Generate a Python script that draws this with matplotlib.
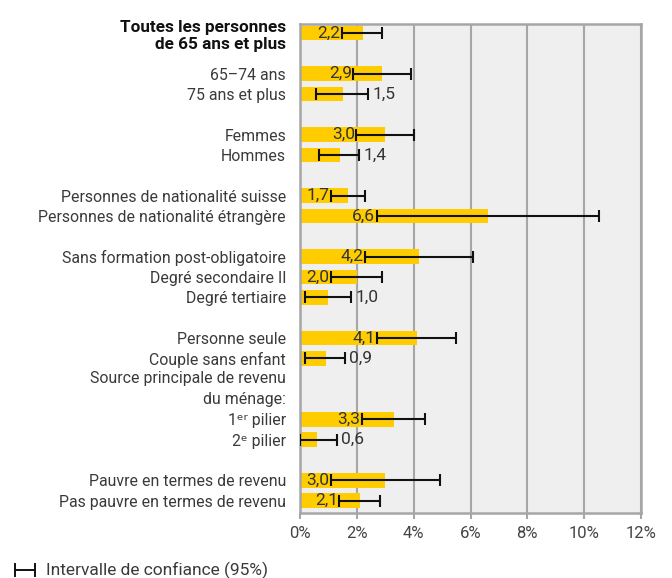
import matplotlib
matplotlib.use("Agg")
import matplotlib.pyplot as plt
from matplotlib.lines import Line2D

plt.rcParams['font.family'] = ['Roboto', 'DejaVu Sans']

# ---- data ----
categories = [
    "Toutes les personnes\nde 65 ans et plus",
    "65\u201374 ans", "75 ans et plus",
    "Femmes", "Hommes",
    "Personnes de nationalit\u00e9 suisse", "Personnes de nationalit\u00e9 \u00e9trang\u00e8re",
    "Sans formation post-obligatoire", "Degr\u00e9 secondaire II", "Degr\u00e9 tertiaire",
    "Personne seule", "Couple sans enfant",
    "1\u1d49\u02b3 pilier", "2\u1d49 pilier",
    "Pauvre en termes de revenu", "Pas pauvre en termes de revenu",
]
values  = [2.2, 2.9, 1.5, 3.0, 1.4, 1.7, 6.6, 4.2, 2.0, 1.0, 4.1, 0.9, 3.3, 0.6, 3.0, 2.1]
ci_low  = [1.47, 1.88, 0.56, 1.98, 0.68, 1.08, 2.70, 2.29, 1.08, 0.18, 2.70, 0.18, 2.18, 0.0, 1.08, 1.39]
ci_high = [2.88, 3.90, 2.40, 4.00, 2.09, 2.30, 10.53, 6.10, 2.88, 1.80, 5.50, 1.59, 4.41, 1.30, 4.92, 2.80]
group_sizes = [1, 2, 2, 2, 3, 2, 2, 2]
group_header = {6: ["Source principale de revenu", "du m\u00e9nage:"]}
xticks = [0, 2, 4, 6, 8, 10, 12]
xticklabels = ["0%", "2%", "4%", "6%", "8%", "10%", "12%"]
legend_text = "Intervalle de confiance (95%)"

# ---- layout ----
positions = []
header_slots = []
slot = 0
for gi, n in enumerate(group_sizes):
    if gi in group_header:
        for line in group_header[gi]:
            header_slots.append((slot, line))
            slot += 1
    elif gi > 0:
        slot += 1
    for k in range(n):
        positions.append(slot)
        slot += 1

fig = plt.figure(figsize=(6.72, 5.78), dpi=100)
ax = fig.add_axes([300/672, 1 - 513/578, 341/672, (513 - 24)/578])
ax.set_facecolor('#efefef')

txt_col = '#3a3a3a'
grid_col = '#a6a6a6'
cat_fs = 11.4

ax.barh(positions, values, height=0.72, color='#FFCC00', zorder=2)
xerr = [[v - l for v, l in zip(values, ci_low)], [h - v for v, h in zip(values, ci_high)]]
ax.errorbar(values, positions, xerr=xerr, fmt='none', ecolor='#111111',
            elinewidth=1.5, capsize=4.5, capthick=1.5, zorder=3)

for v, l, h, p in zip(values, ci_low, ci_high, positions):
    s = f"{v:.1f}".replace('.', ',')
    if l >= 1.0:
        ax.annotate(s, (l, p), xytext=(-1.0, 0), textcoords='offset points',
                    ha='right', va='center', fontsize=12.5, color='#333333', zorder=4)
    else:
        ax.annotate(s, (h, p), xytext=(3, 0), textcoords='offset points',
                    ha='left', va='center', fontsize=12.5, color='#333333', zorder=4)

ax.set_xlim(0, 12)
ax.set_ylim(23.6, -0.45)
ax.set_xticks(xticks)
ax.set_xticklabels(xticklabels, fontsize=12, color='#444444')
ax.set_yticks(positions)
ax.set_yticklabels(categories, fontsize=cat_fs, color=txt_col, linespacing=1.2)
first = ax.get_yticklabels()[0]
first.set_fontweight('bold')
first.set_fontsize(12.3)
first.set_color('#111111')
ax.tick_params(axis='y', length=0, pad=10)
ax.tick_params(axis='x', length=4, color=grid_col, width=1.5, pad=5)

for yp, line in header_slots:
    ax.annotate(line, (0, yp), xytext=(-10, 0), textcoords='offset points',
                ha='right', va='center', fontsize=cat_fs, color=txt_col,
                annotation_clip=False)

ax.grid(axis='x', color=grid_col, linewidth=1.5, zorder=1)
ax.set_axisbelow(True)
for sp in ax.spines.values():
    sp.set_color(grid_col)
    sp.set_linewidth(1.8)

# legend
y_leg = 1 - 570/578
fig.add_artist(Line2D([15/672, 35/672], [y_leg, y_leg], color='#111111', lw=1.4))
fig.add_artist(Line2D([15/672, 15/672], [y_leg - 6/578, y_leg + 6/578], color='#111111', lw=1.4))
fig.add_artist(Line2D([35/672, 35/672], [y_leg - 6/578, y_leg + 6/578], color='#111111', lw=1.4))
fig.text(46/672, y_leg, legend_text, ha='left', va='center', fontsize=12.5, color=txt_col)

fig.savefig('out.png', dpi=100)
